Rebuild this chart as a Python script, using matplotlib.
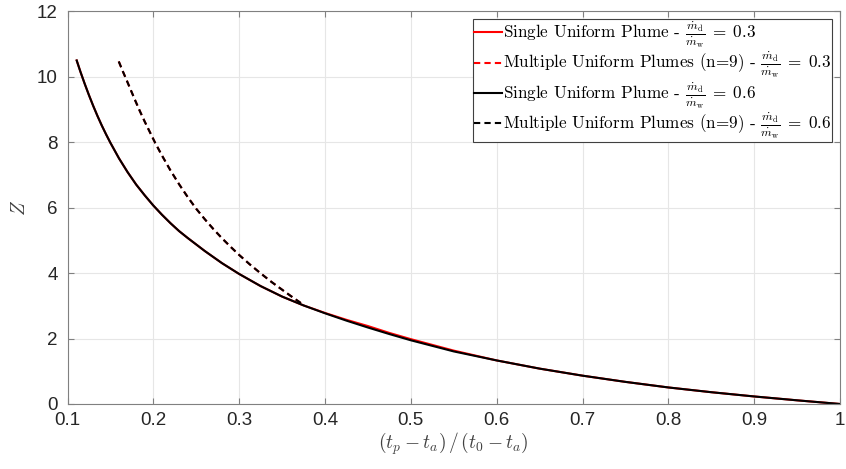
import numpy as np
import matplotlib
matplotlib.use("Agg")
import matplotlib.pyplot as plt

# Dimensionless penetration height Z versus normalised time (t_p - t_a)/(t_0 - t_a)
x_single = [0.1107, 0.115, 0.120, 0.125, 0.130, 0.135, 0.140, 0.145, 0.150, 0.160,
            0.170, 0.180, 0.190, 0.200, 0.210, 0.220, 0.230, 0.240, 0.260, 0.280,
            0.300, 0.325, 0.350, 0.375, 0.400, 0.425, 0.450, 0.475, 0.500, 0.550,
            0.600, 0.650, 0.700, 0.750, 0.800, 0.850, 0.900, 0.950, 1.000]
z_single_03 = [10.49, 10.15, 9.78, 9.43, 9.10, 8.79, 8.50, 8.23, 7.975, 7.50,
               7.08, 6.70, 6.37, 6.06, 5.78, 5.52, 5.28, 5.07, 4.67, 4.30,
               3.97, 3.60, 3.28, 3.01, 2.78, 2.57, 2.38, 2.17, 1.98, 1.63,
               1.33, 1.08, 0.865, 0.675, 0.505, 0.36, 0.23, 0.112, 0.00]
z_single_06 = [10.49, 10.15, 9.78, 9.43, 9.10, 8.79, 8.50, 8.23, 7.975, 7.50,
               7.08, 6.70, 6.37, 6.06, 5.78, 5.52, 5.28, 5.07, 4.67, 4.30,
               3.97, 3.60, 3.28, 3.01, 2.77, 2.545, 2.335, 2.135, 1.945, 1.605,
               1.33, 1.08, 0.865, 0.675, 0.505, 0.36, 0.23, 0.112, 0.00]

x_multi = [0.1597, 0.1644, 0.169, 0.174, 0.179, 0.184, 0.190, 0.196, 0.202, 0.210,
           0.220, 0.230, 0.240, 0.250, 0.260, 0.270, 0.280, 0.290, 0.300, 0.3125,
           0.325, 0.3375, 0.350, 0.360, 0.372]
z_multi_03 = [10.46, 10.16, 9.88, 9.57, 9.26, 8.96, 8.62, 8.30, 7.98, 7.59,
              7.13, 6.71, 6.32, 5.96, 5.64, 5.34, 5.06, 4.80, 4.55, 4.26,
              3.99, 3.73, 3.49, 3.30, 3.08]
z_multi_06 = [10.46, 10.16, 9.88, 9.57, 9.26, 8.96, 8.62, 8.30, 7.98, 7.59,
              7.13, 6.71, 6.32, 5.96, 5.64, 5.34, 5.06, 4.80, 4.55, 4.26,
              3.99, 3.73, 3.49, 3.30, 3.08]

frac = r"$\frac{\dot{m}_\mathrm{d}}{\dot{m}_\mathrm{w}}\;=\;"
labels = [
    "Single Uniform Plume - " + frac + "0.3$",
    "Multiple Uniform Plumes (n=9) - " + frac + "0.3$",
    "Single Uniform Plume - " + frac + "0.6$",
    "Multiple Uniform Plumes (n=9) - " + frac + "0.6$",
]

plt.rcParams["mathtext.fontset"] = "cm"
plt.rcParams["font.family"] = ["Liberation Sans", "DejaVu Sans"]

AXIS_GREY = "#262626"

fig = plt.figure(figsize=(8.46, 4.69), dpi=100)
ax = fig.add_axes([0.0798, 0.1386, 0.9132, 0.8379])

lw = 1.5
dash = (3.0, 2.0)
ax.plot(x_single, z_single_03, color="red", lw=lw, label=labels[0])
ax.plot(x_multi, z_multi_03, color="red", lw=lw, dashes=dash, label=labels[1])
ax.plot(x_single, z_single_06, color="black", lw=lw, label=labels[2])
ax.plot(x_multi, z_multi_06, color="black", lw=lw, dashes=dash, label=labels[3])

ax.set_xlim(0.1, 1.0)
ax.set_ylim(0, 12)
ax.set_xticks(np.arange(0.1, 1.01, 0.1))
ax.set_xticklabels(["0.1", "0.2", "0.3", "0.4", "0.5", "0.6", "0.7", "0.8", "0.9", "1"])
ax.set_yticks(np.arange(0, 13, 2))

ax.grid(True, color="#e6e6e6", lw=0.8)
ax.set_axisbelow(True)
for side in ax.spines.values():
    side.set_color("#808080")
    side.set_linewidth(0.8)
ax.tick_params(direction="in", length=4, width=0.8, colors="#808080",
               labelcolor=AXIS_GREY, labelsize=13.5, top=True, right=True)
ax.tick_params(axis="x", pad=6)
ax.tick_params(axis="y", pad=7)

ax.set_xlabel(r"$(t_p - t_a)\,/\,(t_0 - t_a)$", fontsize=14, color="#404040", labelpad=1)
ax.set_ylabel(r"$Z$", fontsize=14, color="#404040", labelpad=6)

leg = ax.legend(loc="upper right", prop={"family": "cmr10", "size": 12.3},
                handlelength=1.65, handletextpad=0.05, borderpad=0.05,
                labelspacing=0.0, borderaxespad=0.45,
                fancybox=False, framealpha=1, edgecolor="#404040")
leg.get_frame().set_linewidth(0.8)

fig.savefig("out.png", dpi=100)
